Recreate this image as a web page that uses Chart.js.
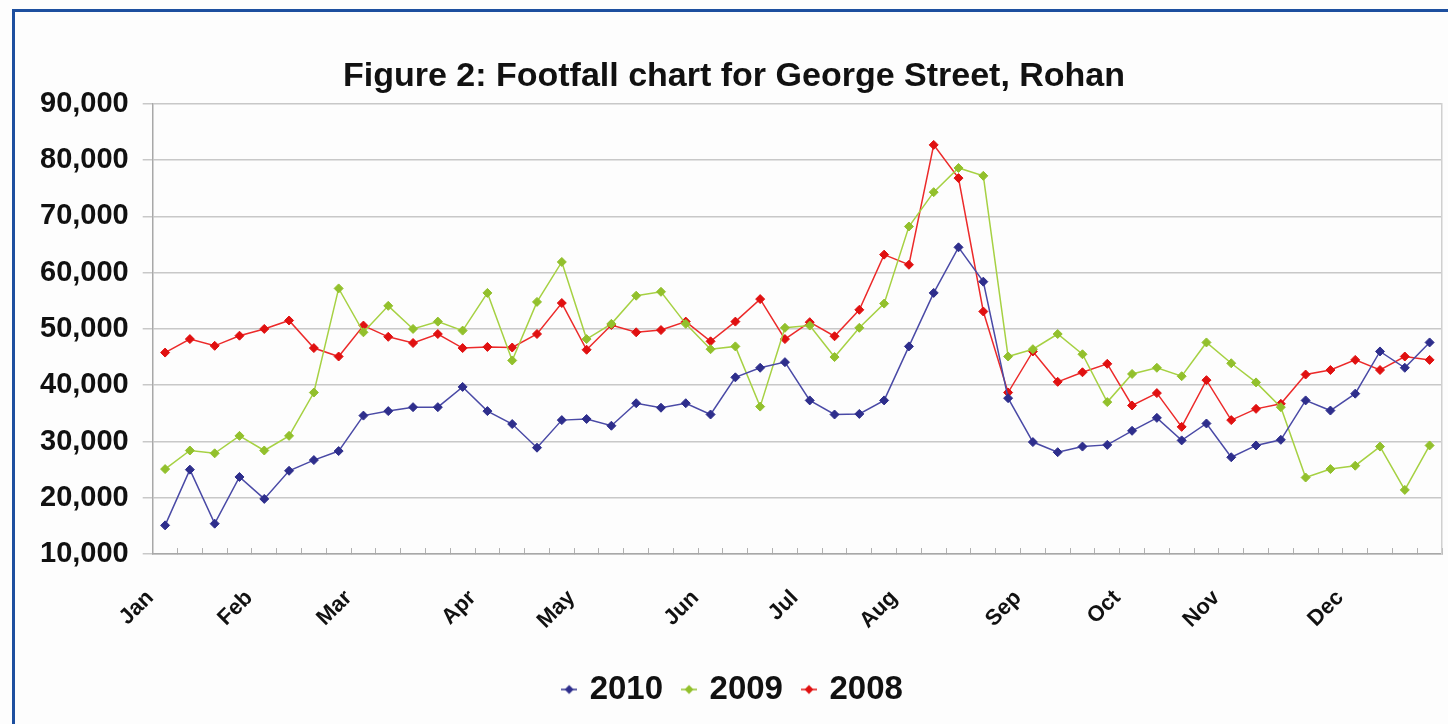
<!DOCTYPE html>
<html>
<head>
<meta charset="utf-8">
<title>Footfall chart</title>
<script src="https://cdn.jsdelivr.net/npm/chart.js@4.4.1/dist/chart.umd.min.js"></script>
<style>
    body {
        margin: 0;
        background: #fdfdfd;
    }
    .marco {
        position: absolute;
        left: 12px;
        top: 9px;
        right: 0;
        bottom: 0;
        border-left: 3px solid #1d4f9f;
        border-top: 3px solid #1d4f9f;
    }
    .grafica {
        position: absolute;
        left: 0;
        top: 0;
        width: 1448px;
        height: 724px;
    }
</style>
</head>
<body>
<div class="marco"></div>
<div class="grafica"><canvas id="footfall" width="1448" height="724"></canvas></div>
<script>
// Semanas del año (52) y en cual empieza cada mes
const monthNames = ["Jan", "Feb", "Mar", "Apr", "May", "Jun", "Jul", "Aug", "Sep", "Oct", "Nov", "Dec"];
const monthWeeks = [0, 4, 8, 13, 17, 22, 26, 30, 35, 39, 43, 48];

// Visitantes por semana
const footfall2010 = [15100, 25000, 15400, 23700, 19800, 24800, 26700, 28300, 34600, 35400,
    36100, 36100, 39700, 35400, 33100, 28900, 33800, 34000, 32800, 36800,
    36000, 36800, 34800, 41400, 43100, 44100, 37300, 34800, 34900, 37300,
    46900, 56400, 64500, 58400, 37700, 29900, 28100, 29100, 29400, 31900,
    34200, 30200, 33200, 27200, 29300, 30300, 37300, 35500, 38500, 46000,
    43100, 47600];
const footfall2009 = [25100, 28400, 27900, 31000, 28400, 31000, 38700, 57200, 49400, 54100,
    50000, 51300, 49700, 56400, 44400, 54800, 61900, 48200, 50900, 55900,
    56600, 50900, 46400, 46900, 36200, 50200, 50600, 45000, 50200, 54500,
    68200, 74300, 78600, 77200, 45100, 46400, 49100, 45500, 37000, 42000,
    43100, 41600, 47600, 43900, 40500, 36100, 23600, 25100, 25700, 29100,
    21400, 29300];
const footfall2008 = [45800, 48200, 47000, 48800, 50000, 51500, 46600, 45100, 50600, 48600,
    47500, 49100, 46600, 46800, 46700, 49100, 54600, 46300, 50700, 49400,
    49800, 51300, 47800, 51300, 55300, 48200, 51200, 48700, 53400, 63200,
    61400, 82700, 76800, 53100, 38700, 46000, 40600, 42300, 43800, 36400,
    38600, 32600, 40900, 33800, 35800, 36700, 41900, 42700, 44500, 42700,
    45100, 44500];

// Marcas del eje Y
const yTicks = [10000, 20000, 30000, 40000, 50000, 60000, 70000, 80000, 90000];

// Etiquetas del eje X: vacias salvo el inicio de cada mes
const weekLabels = footfall2010.map(() => "");
monthWeeks.forEach((week, i) => {
    weekLabels[week] = monthNames[i];
});

const fontFamily = "Arial, 'Liberation Sans', sans-serif";

// Icono de la leyenda: linea con rombo en el centro
function legendIcon(color) {
    const c = document.createElement("canvas");
    c.width = 16;
    c.height = 12;
    const ctx = c.getContext("2d");
    ctx.strokeStyle = color;
    ctx.lineWidth = 1.5;
    ctx.beginPath();
    ctx.moveTo(0, 6);
    ctx.lineTo(16, 6);
    ctx.stroke();
    ctx.fillStyle = color;
    ctx.beginPath();
    ctx.moveTo(8, 1.5);
    ctx.lineTo(12.5, 6);
    ctx.lineTo(8, 10.5);
    ctx.lineTo(3.5, 6);
    ctx.closePath();
    ctx.fill();
    return c;
}

function serie(label, data, lineColor, pointColor) {
    return {
        label: label,
        data: data,
        borderColor: lineColor,
        backgroundColor: pointColor,
        borderWidth: 1.5,
        pointStyle: "rectRot",
        pointRadius: 4.5,
        pointBorderWidth: 1,
        pointBorderColor: pointColor,
        pointBackgroundColor: pointColor,
        tension: 0,
    };
}

const datasets = [
    serie("2010", footfall2010, "#4a4aa6", "#2e2e8c"),
    serie("2009", footfall2009, "#a6d143", "#92c02c"),
    serie("2008", footfall2008, "#ec2a2a", "#e01010"),
];

const icons = [legendIcon("#2e2e8c"), legendIcon("#92c02c"), legendIcon("#e01010")];

new Chart(document.getElementById("footfall"), {
    type: "line",
    data: {
        labels: weekLabels,
        datasets: datasets,
    },
    options: {
        responsive: false,
        animation: false,
        layout: {
            padding: { left: 26, right: 6, top: 56, bottom: 8 },
        },
        plugins: {
            title: {
                display: true,
                text: "Figure 2: Footfall chart for George Street, Rohan",
                color: "#111",
                font: { family: fontFamily, size: 34, weight: "bold" },
                padding: { top: 0, bottom: 7 },
            },
            legend: {
                position: "bottom",
                labels: {
                    color: "#111",
                    font: { family: fontFamily, size: 33, weight: "bold" },
                    usePointStyle: true,
                    pointStyleWidth: 8,
                    padding: 22,
                    generateLabels: (chart) =>
                        chart.data.datasets.map((ds, i) => ({
                            text: ds.label,
                            pointStyle: icons[i],
                            fillStyle: ds.backgroundColor,
                            strokeStyle: ds.borderColor,
                            lineWidth: 0,
                            datasetIndex: i,
                            fontColor: "#111",
                        })),
                },
            },
            tooltip: { enabled: false },
        },
        scales: {
            x: {
                offset: true,
                grid: {
                    offset: true,
                    drawOnChartArea: false,
                    color: "#b0b0b0",
                    tickLength: -6,
                },
                border: { color: "#a8a8a8", width: 1.5 },
                ticks: {
                    autoSkip: false,
                    minRotation: 45,
                    maxRotation: 45,
                    labelOffset: -15,
                    padding: 37,
                    color: "#111",
                    font: { family: fontFamily, size: 22, weight: "bold" },
                },
                // las etiquetas giradas no necesitan margen a la derecha
                afterFit: (axis) => {
                    axis.paddingRight = 0;
                    axis.height -= 20;
                },
            },
            y: {
                min: 10000,
                max: 90000,
                afterBuildTicks: (axis) => {
                    axis.ticks = yTicks.map((v) => ({ value: v }));
                },
                grid: {
                    color: "#c8c8c8",
                    lineWidth: 1.5,
                    tickLength: 10,
                },
                border: { color: "#a8a8a8", width: 1.5 },
                ticks: {
                    padding: 14,
                    color: "#111",
                    font: { family: fontFamily, size: 29, weight: "bold" },
                    callback: (v) => v.toLocaleString("en-US"),
                },
            },
            y2: {
                position: "right",
                min: 10000,
                max: 90000,
                grid: { drawOnChartArea: false, drawTicks: false },
                border: { color: "#d0d0d0", width: 1.5 },
                ticks: { display: false },
            },
        },
    },
});
</script>
</body>
</html>
